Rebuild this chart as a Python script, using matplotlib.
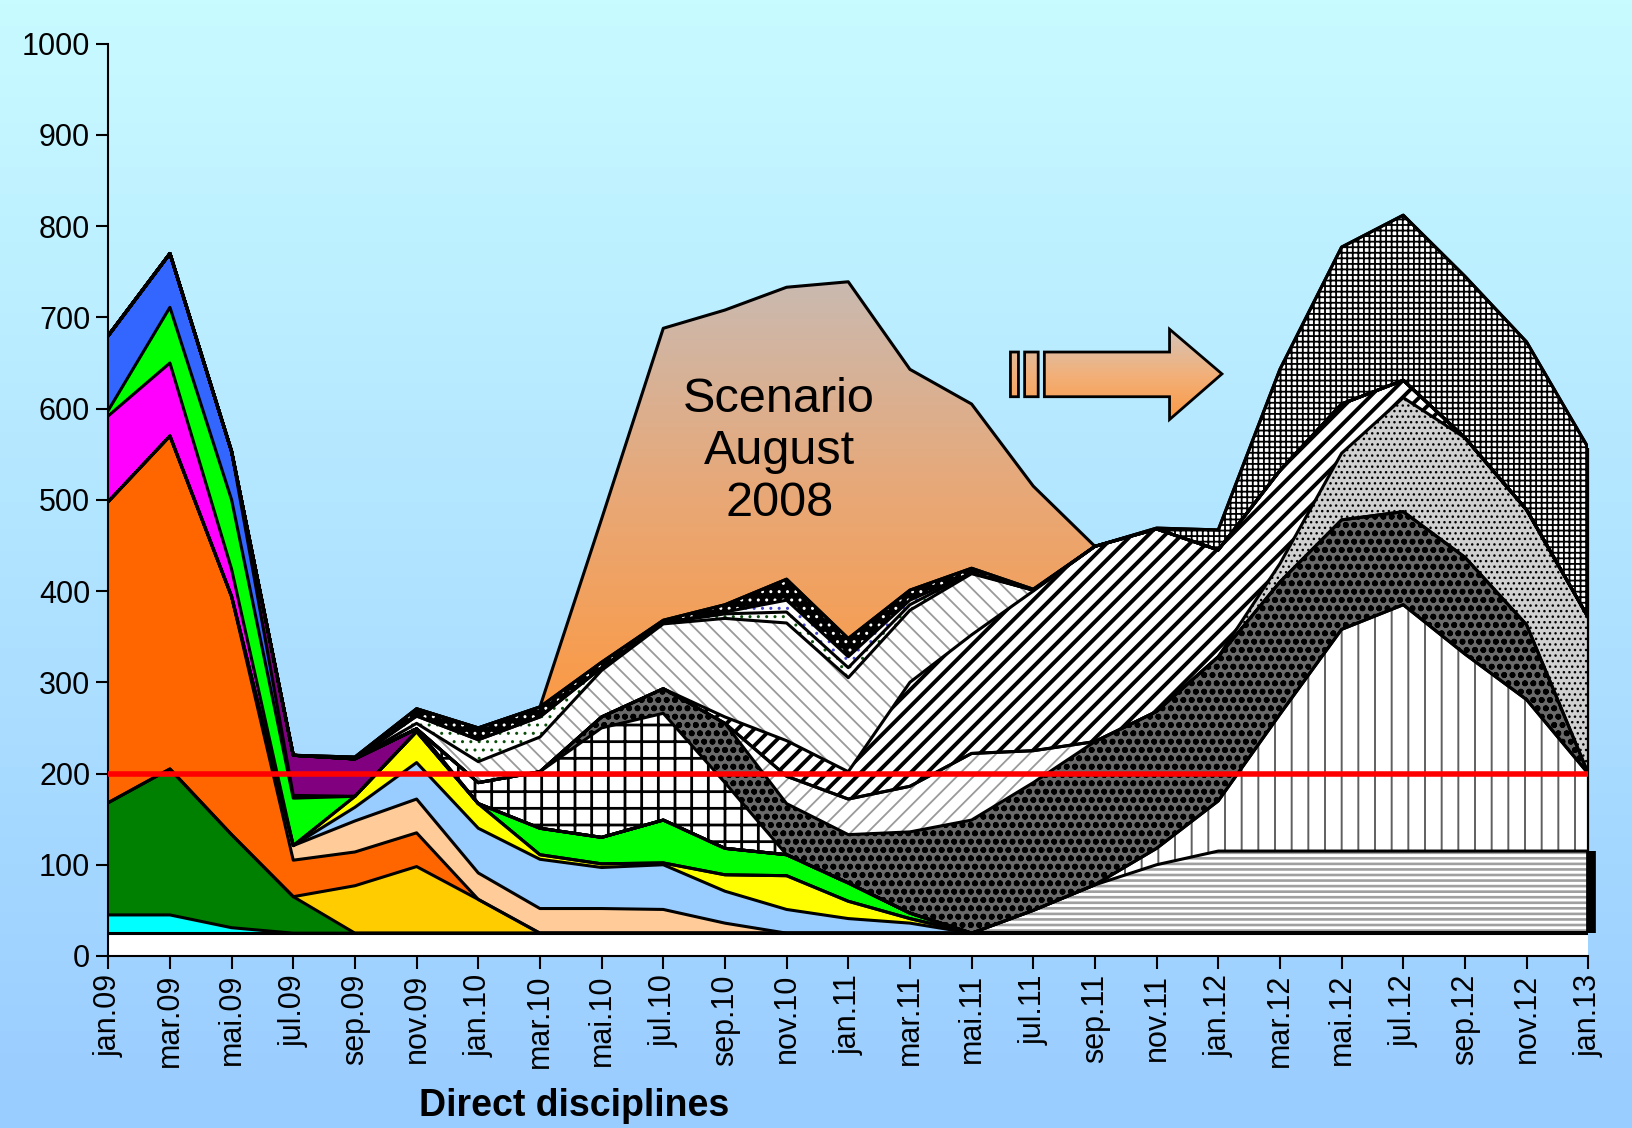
import numpy as np
import matplotlib
matplotlib.use('Agg')
import matplotlib.pyplot as plt
from matplotlib.path import Path
from matplotlib.patches import PathPatch
from matplotlib.colors import LinearSegmentedColormap

plt.rcParams['font.family'] = ['Liberation Sans', 'DejaVu Sans']
plt.rcParams['hatch.linewidth'] = 1.2

months = ['jan.09', 'mar.09', 'mai.09', 'jul.09', 'sep.09', 'nov.09',
          'jan.10', 'mar.10', 'mai.10', 'jul.10', 'sep.10', 'nov.10',
          'jan.11', 'mar.11', 'mai.11', 'jul.11', 'sep.11', 'nov.11',
          'jan.12', 'mar.12', 'mai.12', 'jul.12', 'sep.12', 'nov.12', 'jan.13']

# series values (stacked, bottom -> top)
base_white = [25] * 25
cyan = [20, 20, 6] + [0] * 22
dark_green = [123, 160, 102, 40] + [0] * 21
gold = [0, 0, 0, 0, 52, 73, 37] + [0] * 18
orange = [330, 365, 261, 40, 37, 37] + [0] * 19
peach = [0, 0, 0, 16, 34, 37, 29, 27, 27, 26, 11] + [0] * 14
light_blue = [0, 0, 0, 0, 15, 40, 49, 54, 45, 49, 35, 26, 16, 11] + [0] * 11
yellow = [0, 0, 0, 0, 12, 34, 27, 5, 4, 2, 18, 37, 19, 5] + [0] * 11
magenta = [94, 80, 30] + [0] * 22
green = [6, 61, 76, 52, 0, 0, 0, 29, 29, 47, 29, 23, 20, 6] + [0] * 11
blue = [82, 59, 53, 3] + [0] * 21
purple = [0, 0, 0, 44, 41, 3] + [0] * 19
hor_lines = [0] * 15 + [25, 53, 75, 90, 90, 90, 90, 90, 90, 90]
vert_dash = [0] * 17 + [18, 55, 150, 243, 270, 216, 166, 85]
big_grid = [0] * 6 + [23, 62, 120, 117, 72] + [0] * 14
spheres = [0] * 8 + [12, 27, 65, 56, 53, 89, 124, 140, 157, 150, 158, 145,
                     120, 102, 106, 82, 0]
dash_up = [0] * 11 + [30, 39, 50, 73, 35] + [0] * 9
fine_dots = [0] * 19 + [20, 73, 125, 131, 126, 171]
stripes = [0] * 10 + [7, 39, 30, 114, 130, 175, 214, 200, 117, 102, 54, 19,
                      0, 0, 0]
dash_down = [0] * 5 + [6, 23, 38, 51, 71, 108, 129, 103, 79, 67, 1] + [0] * 9
green_dots = [0] * 5 + [8, 24, 22, 3, 1, 5, 12, 11, 6, 1] + [0] * 10
blue_dots = [0] * 10 + [2, 13, 12, 5] + [0] * 11
black_dots = [0] * 4 + [2, 8, 13, 11, 6, 3, 8, 23, 20, 11, 5, 1] + [0] * 9
small_grid = [0] * 17 + [1, 22, 111, 172, 181, 177, 184, 186]
scenario = [0] * 8 + [157, 320, 323, 320, 391, 242, 180, 113] + [0] * 9

limit = 200

# (values, facecolor, hatch, hatch colour, hatch linewidth)
layers = [
    (base_white, 'white', None, 'black', 1),
    (cyan, '#00ffff', None, 'black', 1),
    (dark_green, '#008000', None, 'black', 1),
    (gold, '#ffcc00', None, 'black', 1),
    (orange, '#ff6600', None, 'black', 1),
    (peach, '#ffcc99', None, 'black', 1),
    (light_blue, '#99ccff', None, 'black', 1),
    (yellow, '#ffff00', None, 'black', 1),
    (magenta, '#ff00ff', None, 'black', 1),
    (green, '#00ff00', None, 'black', 1),
    (blue, '#3366ff', None, 'black', 1),
    (purple, '#800080', None, 'black', 1),
    (hor_lines, 'white', '---', '#a0a0a0', 1.9),
    (vert_dash, 'white', '|', '#606060', 1.4),
    (big_grid, 'white', '+', 'black', 2.0),
    (spheres, '#6a6a6a', 'oo', 'black', 1.8),
    (dash_up, 'white', '//', '#9a9a9a', 1.3),
    (fine_dots, '#d0d0d0', '...', 'black', 1),
    (stripes, 'white', '//', 'black', 2.8),
    (dash_down, 'white', '\\\\', '#9a9a9a', 1.3),
    (green_dots, 'white', '..', '#0b4d0b', 1),
    (blue_dots, 'white', '..', '#4444cc', 1),
    (black_dots, 'black', '..', 'white', 1),
    (small_grid, 'white', '+++', 'black', 1.3),
    (scenario, 'none', None, 'black', 1),
]


def set_hatch_width(artist, lw):
    # hatch line width: per artist if possible, else rcParams at draw time
    if hasattr(artist, 'set_hatch_linewidth'):
        artist.set_hatch_linewidth(lw)
    if hasattr(artist, '_hatch_linewidth'):
        artist._hatch_linewidth = lw
    orig = artist.draw

    def draw(renderer):
        with plt.rc_context({'hatch.linewidth': lw}):
            orig(renderer)
    artist.draw = draw


fig = plt.figure(figsize=(16.33, 11.28), dpi=100)

# background gradient
bg = fig.add_axes([0, 0, 1, 1], zorder=-10)
bg_cmap = LinearSegmentedColormap.from_list('bg', ['#c8fbff', '#99ccff'])
bg.imshow(np.linspace(0, 1, 256).reshape(-1, 1), aspect='auto', cmap=bg_cmap,
          extent=[0, 1, 0, 1])
bg.axis('off')

ax = fig.add_axes([0.0663, 0.1525, 0.9063, 0.8088])
ax.set_facecolor('none')

x = np.arange(len(months))
bottom = np.zeros(len(x))
tops = []
scen_poly = None
for vals, face, hatch, hcol, hlw in layers:
    top = bottom + np.array(vals, dtype=float)
    with plt.rc_context({'hatch.linewidth': hlw}):
        poly = ax.fill_between(x, bottom, top, facecolor=face, edgecolor=hcol,
                               hatch=hatch, linewidth=0, zorder=2)
    if hatch:
        set_hatch_width(poly, hlw)
    if vals is scenario:
        scen_poly = poly
    tops.append(top)
    bottom = top

# gradient inside the scenario area
scen_cmap = LinearSegmentedColormap.from_list('sc', ['#c9bab2', '#e8a877', '#fb9a45'])
im = ax.imshow(np.linspace(0, 1, 256).reshape(-1, 1), aspect='auto', cmap=scen_cmap,
               extent=[0, 24, 270, 745], zorder=1.9)
im.set_clip_path(scen_poly.get_paths()[0], transform=ax.transData)

for top in tops:
    ax.plot(x, top, color='black', lw=2.2, zorder=3)

# right edge of the last column, thick on the bottom right layer
ax.vlines(x[-1], tops[0][-1], tops[-1][-1], color='black', lw=1.6, zorder=3,
          clip_on=False)
ax.vlines(x[-1] + 0.04, tops[11][-1], tops[12][-1], color='black', lw=7,
          zorder=3, clip_on=False)

ax.axhline(limit, color='#ff0000', lw=4, zorder=4)

ax.text(10.88, 553, 'Scenario\nAugust\n2008', ha='center', va='center',
        fontsize=35, linespacing=1.2, zorder=5)


# arrow
def box(x0, x1, y0, y1):
    return Path([(x0, y0), (x1, y0), (x1, y1), (x0, y1), (x0, y0)],
                [Path.MOVETO, Path.LINETO, Path.LINETO, Path.LINETO, Path.CLOSEPOLY])


arrow = Path([(15.18, 613), (17.21, 613), (17.21, 588), (18.06, 638),
              (17.21, 687), (17.21, 662), (15.18, 662), (15.18, 613)],
             [Path.MOVETO] + [Path.LINETO] * 6 + [Path.CLOSEPOLY])
shape = Path.make_compound_path(box(14.63, 14.76, 613, 662),
                                box(14.86, 15.08, 613, 662), arrow)
patch = PathPatch(shape, facecolor='none', edgecolor='black', lw=2, zorder=5)
ax.add_patch(patch)
arr_cmap = LinearSegmentedColormap.from_list('ar', ['#d4c4b8', '#f2b07a', '#fb9a45'])
aim = ax.imshow(np.linspace(0, 1, 64).reshape(-1, 1), aspect='auto', cmap=arr_cmap,
                extent=[14.5, 18.2, 588, 687], zorder=4.9)
aim.set_clip_path(patch)

ax.set_xlim(0, 24)
ax.set_ylim(0, 1000)
ax.set_xticks(x)
ax.set_xticklabels(months, rotation=90, fontsize=22)
ax.set_yticks(range(0, 1001, 100))
ax.tick_params(axis='y', labelsize=22, direction='out', length=9, width=1.5, pad=4)
ax.tick_params(axis='x', direction='out', length=9, width=1.5, pad=4)
for s in ['top', 'right']:
    ax.spines[s].set_visible(False)
ax.spines['left'].set_linewidth(1.5)
ax.spines['bottom'].set_linewidth(1.5)

fig.text(0.3515, 0.0195, 'Direct disciplines', fontsize=27, fontweight='bold',
         ha='center', va='center')

fig.savefig('out.png', dpi=100)
